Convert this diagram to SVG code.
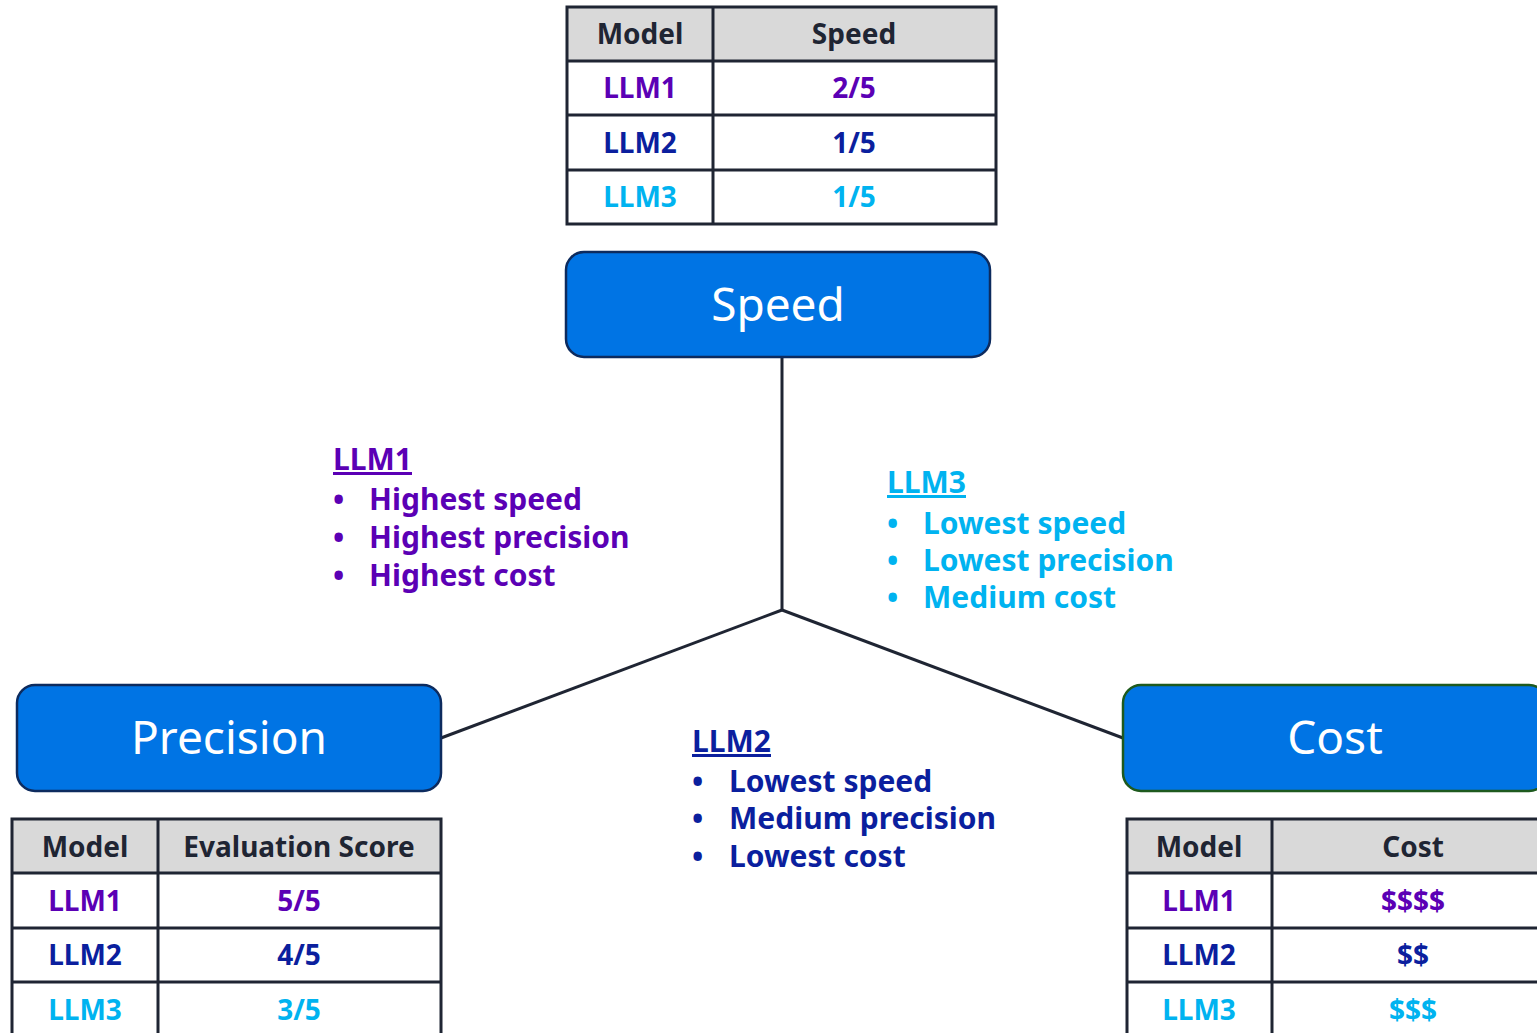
<svg xmlns="http://www.w3.org/2000/svg" width="1537" height="1033" viewBox="0 0 1537 1033">
  <style>
    text { font-family: "Noto Sans", "Open Sans", sans-serif; }
    .box { fill: #0074e4; stroke: #0d2b5e; stroke-width: 2.5; }
    .boxlabel { fill: #ffffff; font-size: 46px; text-anchor: middle; }
    .hdr { fill: #d9d9d9; }
    .grid { fill: none; stroke: #1f2533; stroke-width: 3; }
    .cell { font-size: 28px; font-weight: bold; text-anchor: middle; }
    .th { fill: #1f2533; }
    .c1 { fill: #5b00b5; }
    .c2 { fill: #0b1f9e; }
    .c3 { fill: #00b3f0; }
    .note { font-size: 30px; font-weight: bold; }
    .link { fill: none; stroke: #1f2533; stroke-width: 3; }
  </style>

  <!-- connectors -->
  <g id="connectors">
    <line class="link" x1="782" y1="358" x2="782" y2="610"/>
    <line class="link" x1="782" y1="610" x2="441" y2="738"/>
    <line class="link" x1="782" y1="610" x2="1123" y2="738"/>
  </g>

  <!-- speed table -->
  <g id="speed-table">
    <rect class="hdr" x="567" y="7" width="429" height="54"/>
    <rect class="grid" x="567" y="7" width="429" height="217"/>
    <line class="grid" x1="713" y1="7" x2="713" y2="224"/>
    <line class="grid" x1="567" y1="61" x2="996" y2="61"/>
    <line class="grid" x1="567" y1="115" x2="996" y2="115"/>
    <line class="grid" x1="567" y1="170" x2="996" y2="170"/>
    <text class="cell th" x="640" y="44">Model</text>
    <text class="cell th" x="854" y="44">Speed</text>
    <text class="cell c1" x="640" y="98">LLM1</text>
    <text class="cell c1" x="854" y="98">2/5</text>
    <text class="cell c2" x="640" y="153">LLM2</text>
    <text class="cell c2" x="854" y="153">1/5</text>
    <text class="cell c3" x="640" y="207">LLM3</text>
    <text class="cell c3" x="854" y="207">1/5</text>
  </g>

  <!-- speed node -->
  <g id="speed">
    <rect class="box" x="566" y="252" width="424" height="105" rx="18"/>
    <text class="boxlabel" x="778" y="321">Speed</text>
  </g>

  <!-- precision node -->
  <g id="precision">
    <rect class="box" x="17" y="685" width="424" height="106" rx="18"/>
    <text class="boxlabel" x="229" y="754">Precision</text>
  </g>

  <!-- cost node -->
  <g id="cost">
    <rect class="box" x="1123" y="685" width="424" height="106" rx="18" style="stroke:#1e5a1e"/>
    <text class="boxlabel" x="1335" y="754">Cost</text>
  </g>

  <!-- precision table -->
  <g id="precision-table">
    <rect class="hdr" x="12" y="819" width="429" height="54"/>
    <rect class="grid" x="12" y="819" width="429" height="230"/>
    <line class="grid" x1="158" y1="819" x2="158" y2="1040"/>
    <line class="grid" x1="12" y1="873" x2="441" y2="873"/>
    <line class="grid" x1="12" y1="928" x2="441" y2="928"/>
    <line class="grid" x1="12" y1="982" x2="441" y2="982"/>
    <text class="cell th" x="85" y="857">Model</text>
    <text class="cell th" x="299" y="857">Evaluation Score</text>
    <text class="cell c1" x="85" y="911">LLM1</text>
    <text class="cell c1" x="299" y="911">5/5</text>
    <text class="cell c2" x="85" y="965">LLM2</text>
    <text class="cell c2" x="299" y="965">4/5</text>
    <text class="cell c3" x="85" y="1020">LLM3</text>
    <text class="cell c3" x="299" y="1020">3/5</text>
  </g>

  <!-- cost table -->
  <g id="cost-table">
    <rect class="hdr" x="1127" y="819" width="430" height="54"/>
    <rect class="grid" x="1127" y="819" width="430" height="230"/>
    <line class="grid" x1="1272" y1="819" x2="1272" y2="1040"/>
    <line class="grid" x1="1127" y1="873" x2="1557" y2="873"/>
    <line class="grid" x1="1127" y1="928" x2="1557" y2="928"/>
    <line class="grid" x1="1127" y1="982" x2="1557" y2="982"/>
    <text class="cell th" x="1199" y="857">Model</text>
    <text class="cell th" x="1413" y="857">Cost</text>
    <text class="cell c1" x="1199" y="911">LLM1</text>
    <text class="cell c1" x="1413" y="911">$$$$</text>
    <text class="cell c2" x="1199" y="965">LLM2</text>
    <text class="cell c2" x="1413" y="965">$$</text>
    <text class="cell c3" x="1199" y="1020">LLM3</text>
    <text class="cell c3" x="1413" y="1020">$$$</text>
  </g>

  <!-- LLM1 summary -->
  <g id="llm1-notes" class="note c1">
    <text x="333" y="470" text-decoration="underline">LLM1</text>
    <text x="333" y="510">•</text><text x="369" y="510">Highest speed</text>
    <text x="333" y="548">•</text><text x="369" y="548">Highest precision</text>
    <text x="333" y="586">•</text><text x="369" y="586">Highest cost</text>
  </g>

  <!-- LLM3 summary -->
  <g id="llm3-notes" class="note c3">
    <text x="887" y="493" text-decoration="underline">LLM3</text>
    <text x="887" y="534">•</text><text x="923" y="534">Lowest speed</text>
    <text x="887" y="571">•</text><text x="923" y="571">Lowest precision</text>
    <text x="887" y="608">•</text><text x="923" y="608">Medium cost</text>
  </g>

  <!-- LLM2 summary -->
  <g id="llm2-notes" class="note c2">
    <text x="692" y="752" text-decoration="underline">LLM2</text>
    <text x="692" y="792">•</text><text x="729" y="792">Lowest speed</text>
    <text x="692" y="829">•</text><text x="729" y="829">Medium precision</text>
    <text x="692" y="867">•</text><text x="729" y="867">Lowest cost</text>
  </g>
</svg>
